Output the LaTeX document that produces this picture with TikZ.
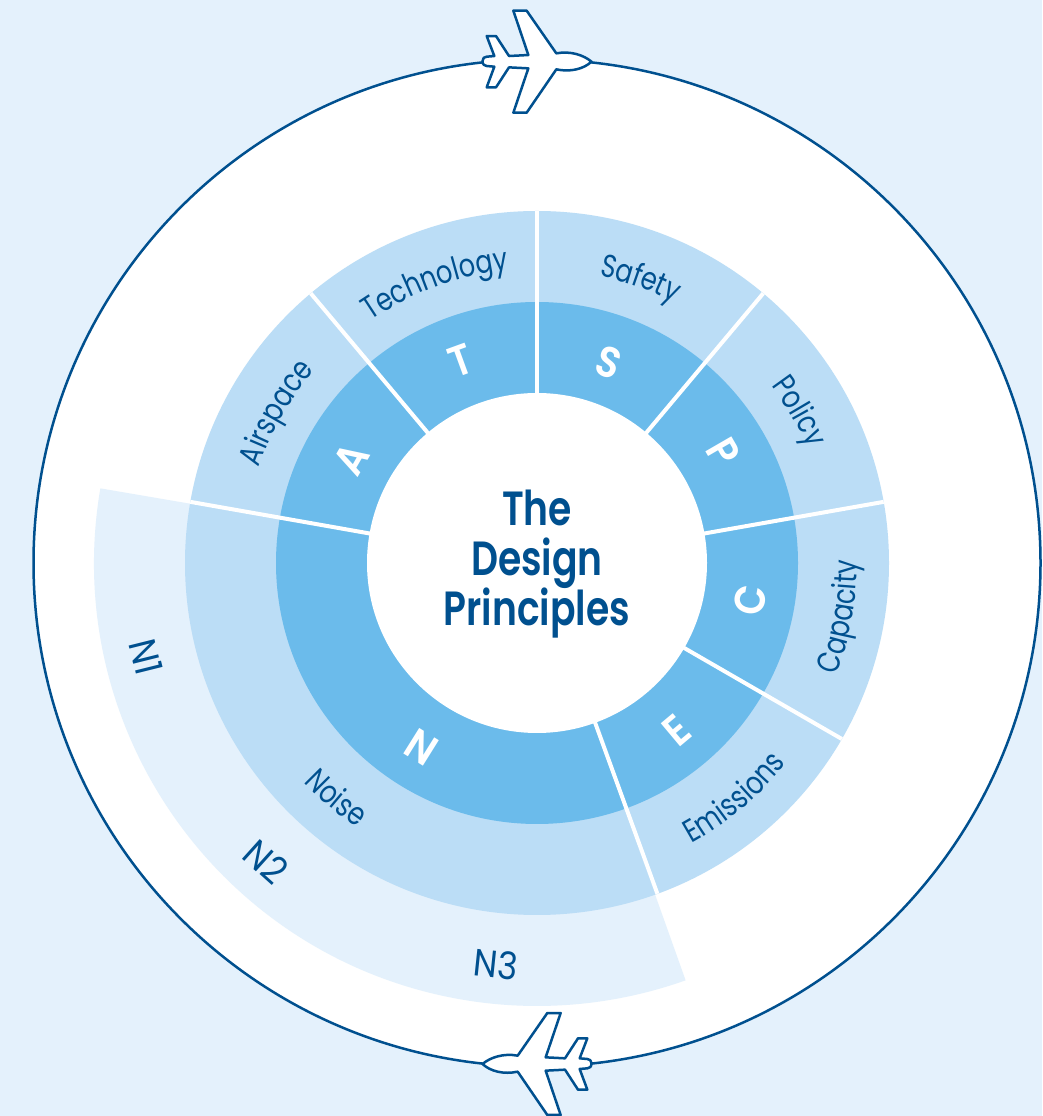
\documentclass[tikz,border=0pt]{standalone}
\usepackage{fontspec}
\usetikzlibrary{decorations.text}
\newfontfamily\lblfont[FakeStretch=0.8]{Poppins}
\newfontfamily\nfont[FakeStretch=0.9]{Poppins}
\newfontfamily\headfont[FakeStretch=0.785]{Poppins SemiBold}
\newfontfamily\letterfont[FakeStretch=0.9]{Poppins SemiBold}
\definecolor{bgpale}{HTML}{E4F1FC}
\definecolor{ringmid}{HTML}{6BBBEB}
\definecolor{ringlight}{HTML}{BBDDF6}
\definecolor{navy}{HTML}{00508F}
\tikzset{
  x=1pt,y=1pt,
  sep/.style={draw=white,line width=4pt},
  planeline/.style={draw=navy,fill=white,line width=2.5pt,line join=round},
  bigletter/.style={text=white,inner sep=0pt,font=\letterfont\fontsize{43}{43}\selectfont},
  nlabel/.style={text=navy,inner sep=0pt,font=\nfont\fontsize{38}{38}\selectfont},
  titleline/.style={text=navy,inner sep=0pt,anchor=base,font=\headfont\fontsize{48}{48}\selectfont},
}
% #1 start angle, #2 end angle, #3 radius, #4 text
\newcommand{\arctext}[4]{%
  \path[decorate,decoration={text along path,text align=center,
    text={|\lblfont\fontsize{32}{32}\selectfont\color{navy}|#4}}]
    (537,553) ++(#1:#3) arc[start angle=#1,end angle=#2,radius=#3];}
\newcommand{\planepath}{%
  (-163.5,2) .. controls (-163.5,10) and (-158,15) .. (-151,15) -- (-128,17) -- (-151,77) -- (-123,77) -- (-84,17)
  -- (-26,20) -- (-71,153) -- (-31,153) -- (58,25)
  .. controls (100,33) and (140,20) .. (163.5,0)
  .. controls (140,-22) and (100,-32) .. (58,-23)
  -- (-31,-153) -- (-71,-153) -- (-26,-20) -- (-84,-17) -- (-123,-77) -- (-151,-77) -- (-128,-15) -- (-151,-13)
  .. controls (-158,-13) and (-163.5,-8) .. (-163.5,2) -- cycle}
\begin{document}
\begin{tikzpicture}
\useasboundingbox (0,0) rectangle (1042,1116);
\fill[bgpale] (0,0) rectangle (1042,1116);
\coordinate (c) at (537,553);
\draw[navy,fill=white,line width=2.5pt] (c) circle[radius=503.5];
% rings
\fill[bgpale] (c) ++(170.3:443) arc[start angle=170.3,end angle=289.6,radius=443] -- (c) -- cycle;
\fill[ringlight] (c) circle[radius=352];
\fill[ringmid] (c) circle[radius=261];
\fill[white] (c) circle[radius=170];
% separators
\foreach \a in {90,50,10,-30,-70,170,130}
  \draw[sep] (c) ++(\a:169) -- ++(\a:183);
% outer sector labels
\arctext{140}{80}{294}{Technology}
\arctext{90}{50}{294}{Safety}
\arctext{175}{125}{294}{Airspace}
\arctext{50}{10}{294}{Policy}
\arctext{-35}{15}{320}{Capacity}
\arctext{-75}{-25}{320}{Emissions}
\arctext{190}{269}{320}{Noise}
% letters
\node[bigletter,rotate=-20] (S) at (609,754) {S};
\node[bigletter,rotate=20] (T) at (461,755) {T};
\node[bigletter,rotate=60] (A) at (351,657) {A};
\node[bigletter,rotate=-60] (P) at (723,664) {P};
\node[bigletter,rotate=80] (C) at (750,516) {C};
\node[bigletter,rotate=40] (E) at (677,386) {E};
\node[bigletter,rotate=-32] (N) at (422,369) {N};
% N levels
\node[nlabel,rotate=-76] (N1) at (146,459) {N1};
\node[nlabel,rotate=-42] (N2) at (266,254) {N2};
\node[nlabel,rotate=-6] (N3) at (496,152) {N3};
% title
\node[titleline] (t1) at (537,590) {The};
\node[titleline] (t2) at (537,540) {Design};
\node[titleline] (t3) at (537,490) {Principles};
% planes
\begin{scope}[shift={(537,1054.3)},xscale=0.3333,yscale=0.3333]
  \draw[planeline] \planepath;
\end{scope}
\begin{scope}[shift={(537,52)},xscale=-0.3333,yscale=0.3333]
  \draw[planeline] \planepath;
\end{scope}
\end{tikzpicture}
\end{document}
